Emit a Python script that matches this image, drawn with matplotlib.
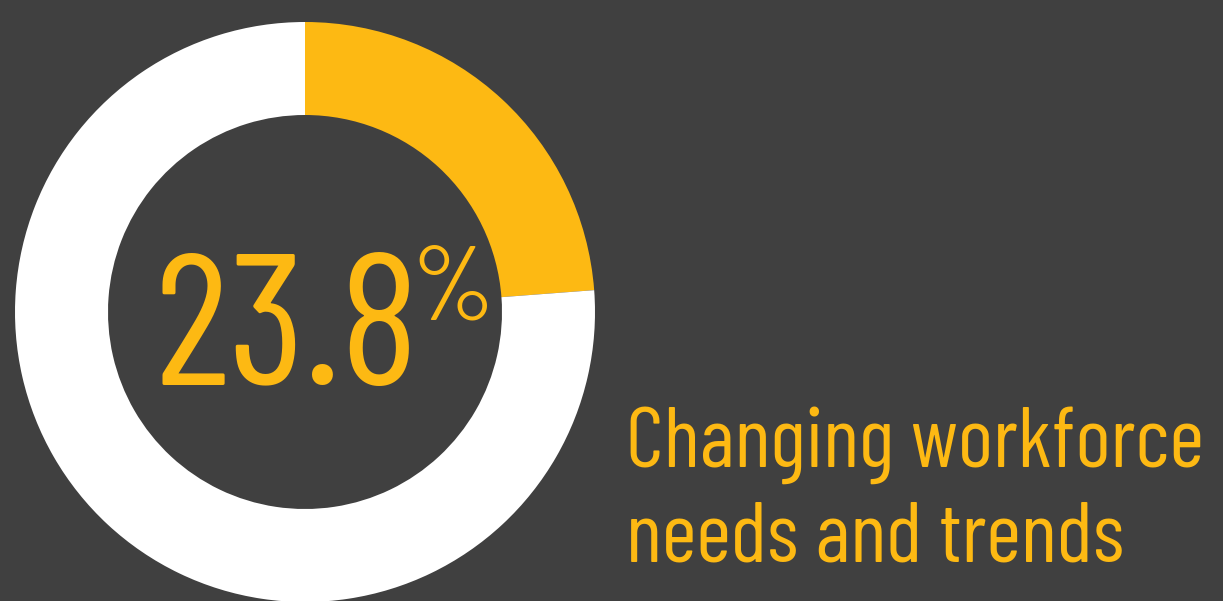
import matplotlib
matplotlib.use("Agg")
import matplotlib.pyplot as plt

# values
share = 23.8
rest = 100 - share
label_value = "23.8"
label_unit = "%"
caption_lines = ["Changing workforce", "needs and trends"]

bg = "#404040"
yellow = "#FDB913"
family = ["Barlow Condensed", "Roboto Condensed", "DejaVu Sans"]

fig = plt.figure(figsize=(12.23, 6.01), dpi=100, facecolor=bg)
ax = fig.add_axes([0, 0, 1, 1])
ax.set_facecolor(bg)

# donut, filled clockwise from 12 o'clock
ax.pie([share, rest], colors=[yellow, "white"], startangle=90, counterclock=False,
       radius=290, center=(305, 289), wedgeprops=dict(width=93, linewidth=0))

ax.set_xlim(0, 1223)
ax.set_ylim(0, 601)
ax.set_aspect("equal")
ax.axis("off")

num = ax.text(154, 216, label_value, color=yellow, fontsize=134, family=family,
              ha="left", va="baseline")
# percent sign sits raised, just right of the number
ax.annotate(label_unit, xy=(1, 281), xycoords=(num, "data"), xytext=(-5, 0),
            textcoords="offset points", color=yellow, fontsize=76, family=family,
            ha="left", va="baseline")
for i, line in enumerate(caption_lines):
    ax.text(626, 134 - i * 95, line, color=yellow, fontsize=61, family=family,
            ha="left", va="baseline")

fig.savefig("out.png", dpi=100, facecolor=bg)
